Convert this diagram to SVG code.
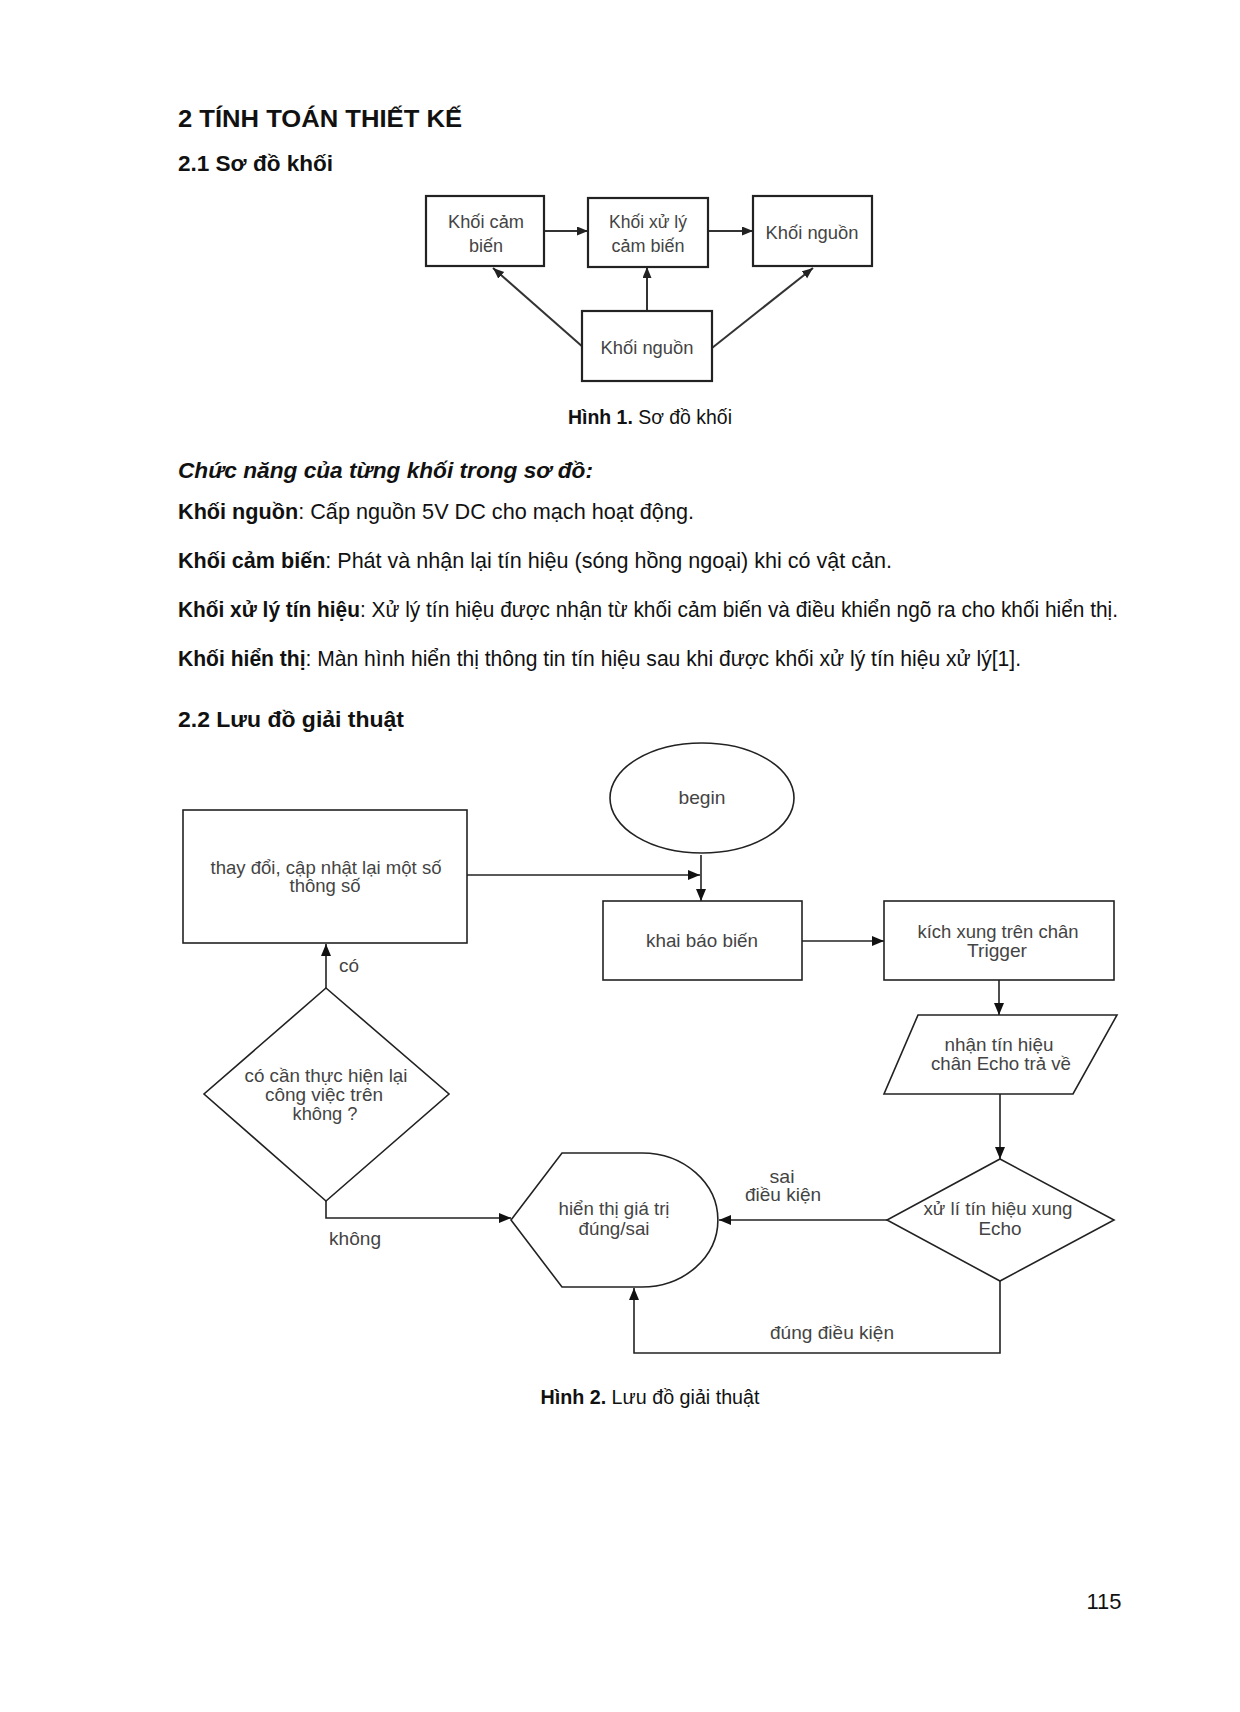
<svg xmlns="http://www.w3.org/2000/svg" width="1240" height="1712" viewBox="0 0 1240 1712">
<style>
.h{font-family:"Liberation Sans",Arial,sans-serif;font-weight:bold;fill:#111}
.b{font-family:"Liberation Sans",Arial,sans-serif;font-size:22px;fill:#111}
.bb{font-weight:bold}
.bx{fill:#fff;stroke:#222;stroke-width:2.2}
.bt{font-family:"Liberation Sans",Arial,sans-serif;font-size:18px;fill:#444;text-anchor:middle}
.fs{fill:#fff;stroke:#222;stroke-width:1.6}
.ft{font-family:"Liberation Sans",Arial,sans-serif;font-size:18.5px;fill:#444;text-anchor:middle}
.bl{stroke:#333;stroke-width:2;fill:none}
.fl{stroke:#222;stroke-width:1.6;fill:none}
.cap{font-family:"Liberation Sans",Arial,sans-serif;font-size:20px;fill:#111;text-anchor:middle}
</style>
<defs>
<marker id="ab" markerWidth="14" markerHeight="12" refX="11" refY="4.5" orient="auto" markerUnits="userSpaceOnUse"><path d="M0,0 L11,4.5 L0,9 Z" fill="#222"/></marker>
<marker id="af" markerWidth="14" markerHeight="12" refX="12" refY="5" orient="auto" markerUnits="userSpaceOnUse"><path d="M0,0 L12,5 L0,10 Z" fill="#111"/></marker>
</defs>

<text class="h" x="178" y="127" font-size="24" textLength="284" lengthAdjust="spacingAndGlyphs">2 TÍNH TOÁN THIẾT KẾ</text>
<text class="h" x="178" y="171" font-size="22" textLength="155" lengthAdjust="spacingAndGlyphs">2.1 Sơ đồ khối</text>

<g id="connectors-block">
<line class="bl" x1="544" y1="231" x2="588" y2="231" marker-end="url(#ab)"/>
<line class="bl" x1="708" y1="231" x2="753" y2="231" marker-end="url(#ab)"/>
<line class="bl" x1="647" y1="311" x2="647" y2="267" marker-end="url(#ab)"/>
<line class="bl" x1="584" y1="348" x2="493" y2="268" marker-end="url(#ab)"/>
<line class="bl" x1="712" y1="348" x2="813" y2="268" marker-end="url(#ab)"/>
</g>
<g id="blk-cambien"><rect class="bx" x="426" y="196" width="118" height="70"/><text class="bt" x="486" y="228" textLength="76" lengthAdjust="spacingAndGlyphs">Khối cảm</text><text class="bt" x="486" y="252">biến</text></g>
<g id="blk-xuly"><rect class="bx" x="588" y="198" width="120" height="69"/><text class="bt" x="648" y="228" textLength="78" lengthAdjust="spacingAndGlyphs">Khối xử lý</text><text class="bt" x="648" y="252" textLength="73" lengthAdjust="spacingAndGlyphs">cảm biến</text></g>
<g id="blk-nguon1"><rect class="bx" x="753" y="196" width="119" height="70"/><text class="bt" x="812" y="239" textLength="93" lengthAdjust="spacingAndGlyphs">Khối nguồn</text></g>
<g id="blk-nguon2"><rect class="bx" x="582" y="311" width="130" height="70"/><text class="bt" x="647" y="354" textLength="93" lengthAdjust="spacingAndGlyphs">Khối nguồn</text></g>

<text class="cap" x="650" y="424" textLength="164" lengthAdjust="spacingAndGlyphs"><tspan font-weight="bold">Hình 1.</tspan> Sơ đồ khối</text>

<text class="b" x="178" y="478" font-weight="bold" font-style="italic" textLength="415" lengthAdjust="spacingAndGlyphs">Chức năng của từng khối trong sơ đồ:</text>
<text class="b" x="178" y="519" textLength="516" lengthAdjust="spacingAndGlyphs"><tspan class="bb">Khối nguồn</tspan>: Cấp nguồn 5V DC cho mạch hoạt động.</text>
<text class="b" x="178" y="568" textLength="714" lengthAdjust="spacingAndGlyphs"><tspan class="bb">Khối cảm biến</tspan>: Phát và nhận lại tín hiệu (sóng hồng ngoại) khi có vật cản.</text>
<text class="b" x="178" y="617" textLength="940" lengthAdjust="spacingAndGlyphs"><tspan class="bb">Khối xử lý tín hiệu</tspan>: Xử lý tín hiệu được nhận từ khối cảm biến và điều khiển ngõ ra cho khối hiển thị.</text>
<text class="b" x="178" y="666" textLength="843" lengthAdjust="spacingAndGlyphs"><tspan class="bb">Khối hiển thị</tspan>: Màn hình hiển thị thông tin tín hiệu sau khi được khối xử lý tín hiệu xử lý[1].</text>
<text class="h" x="178" y="727" font-size="22" textLength="226" lengthAdjust="spacingAndGlyphs">2.2 Lưu đồ giải thuật</text>

<g id="connectors-flow">
<line class="fl" x1="467" y1="875" x2="700" y2="875" marker-end="url(#af)"/>
<line class="fl" x1="701" y1="855" x2="701" y2="901" marker-end="url(#af)"/>
<line class="fl" x1="802" y1="941" x2="884" y2="941" marker-end="url(#af)"/>
<line class="fl" x1="999" y1="980" x2="999" y2="1015" marker-end="url(#af)"/>
<line class="fl" x1="1000" y1="1094" x2="1000" y2="1159" marker-end="url(#af)"/>
<line class="fl" x1="887" y1="1220" x2="719" y2="1220" marker-end="url(#af)"/>
<polyline class="fl" points="1000,1281 1000,1353 634,1353 634,1288" marker-end="url(#af)"/>
<polyline class="fl" points="326,1201 326,1218 511,1218" marker-end="url(#af)"/>
<line class="fl" x1="326" y1="988" x2="326" y2="944" marker-end="url(#af)"/>
<text class="ft" x="782" y="1183" textLength="25" lengthAdjust="spacingAndGlyphs">sai</text>
<text class="ft" x="783" y="1201" textLength="76" lengthAdjust="spacingAndGlyphs">điều kiện</text>
<text class="ft" x="832" y="1339" textLength="124" lengthAdjust="spacingAndGlyphs">đúng điều kiện</text>
<text class="ft" x="355" y="1245" textLength="52" lengthAdjust="spacingAndGlyphs">không</text>
<text class="ft" x="349" y="972" textLength="20" lengthAdjust="spacingAndGlyphs">có</text>
</g>

<g id="n-begin"><ellipse class="fs" cx="702" cy="798" rx="92" ry="55"/><text class="ft" x="702" y="804" textLength="47" lengthAdjust="spacingAndGlyphs">begin</text></g>
<g id="n-capnhat"><rect class="fs" x="183" y="810" width="284" height="133"/><text class="ft" x="326" y="874" textLength="231" lengthAdjust="spacingAndGlyphs">thay đổi, cập nhật lại một số</text><text class="ft" x="325" y="892" textLength="71" lengthAdjust="spacingAndGlyphs">thông số</text></g>
<g id="n-khaibao"><rect class="fs" x="603" y="901" width="199" height="79"/><text class="ft" x="702" y="947" textLength="112" lengthAdjust="spacingAndGlyphs">khai báo biến</text></g>
<g id="n-kichxung"><rect class="fs" x="884" y="901" width="230" height="79"/><text class="ft" x="998" y="938" textLength="161" lengthAdjust="spacingAndGlyphs">kích xung trên chân</text><text class="ft" x="997" y="957" textLength="60" lengthAdjust="spacingAndGlyphs">Trigger</text></g>
<g id="n-nhan"><polygon class="fs" points="918,1015 1117,1015 1073,1094 884,1094"/><text class="ft" x="999" y="1051" textLength="109" lengthAdjust="spacingAndGlyphs">nhận tín hiệu</text><text class="ft" x="1001" y="1070" textLength="140" lengthAdjust="spacingAndGlyphs">chân Echo trả về</text></g>
<g id="n-xuli"><polygon class="fs" points="1000,1159 1114,1220 1000,1281 887,1220"/><text class="ft" x="998" y="1215" textLength="149" lengthAdjust="spacingAndGlyphs">xử lí tín hiệu xung</text><text class="ft" x="1000" y="1235" textLength="43" lengthAdjust="spacingAndGlyphs">Echo</text></g>
<g id="n-hienthi"><path class="fs" d="M511,1220 L562,1153 L642,1153 A76,67 0 0 1 642,1287 L562,1287 Z"/><text class="ft" x="614" y="1215" textLength="111" lengthAdjust="spacingAndGlyphs">hiển thị giá trị</text><text class="ft" x="614" y="1235" textLength="71" lengthAdjust="spacingAndGlyphs">đúng/sai</text></g>
<g id="n-cocan"><polygon class="fs" points="326,988 449,1094 326,1201 204,1094"/><text class="ft" x="326" y="1082" textLength="163" lengthAdjust="spacingAndGlyphs">có cần thực hiện lại</text><text class="ft" x="324" y="1101" textLength="118" lengthAdjust="spacingAndGlyphs">công việc trên</text><text class="ft" x="325" y="1120" textLength="65" lengthAdjust="spacingAndGlyphs">không ?</text></g>

<text class="cap" x="650" y="1404" textLength="219" lengthAdjust="spacingAndGlyphs"><tspan font-weight="bold">Hình 2.</tspan> Lưu đồ giải thuật</text>
<text class="b" x="1104" y="1609" text-anchor="middle" font-size="20" textLength="35" lengthAdjust="spacingAndGlyphs">115</text>
</svg>
